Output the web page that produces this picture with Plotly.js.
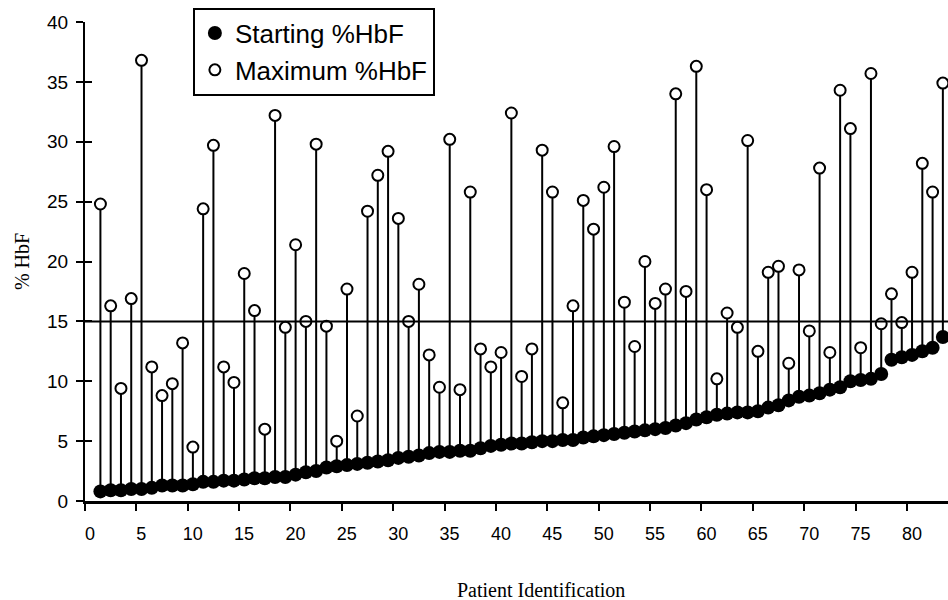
<!DOCTYPE html>
<html>
<head>
<meta charset="utf-8">
<script src="https://cdn.plot.ly/plotly-3.0.1.min.js"></script>
<style>html,body{margin:0;padding:0;background:#fff;}#chart{width:948px;height:600px;}</style>
</head>
<body>
<div id="chart"></div>
<script>
const patientIds = [1,2,3,4,5,6,7,8,9,10,11,12,13,14,15,16,17,18,19,20,21,22,23,24,25,26,27,28,29,30,31,32,33,34,35,36,37,38,39,40,41,42,43,44,45,46,47,48,49,50,51,52,53,54,55,56,57,58,59,60,61,62,63,64,65,66,67,68,69,70,71,72,73,74,75,76,77,78,79,80,81,82,83];

const startingHbF = [0.8,0.9,0.9,1.0,1.0,1.1,1.3,1.3,1.3,1.4,1.6,1.6,1.7,1.7,1.8,1.9,1.9,2.0,2.0,2.2,
  2.4,2.5,2.8,2.9,3.0,3.1,3.2,3.3,3.4,3.6,3.7,3.8,4.0,4.1,4.1,4.2,4.2,4.4,4.6,4.7,
  4.8,4.8,4.9,5.0,5.0,5.1,5.1,5.3,5.4,5.5,5.6,5.7,5.8,5.9,6.0,6.1,6.3,6.5,6.8,7.0,
  7.2,7.3,7.4,7.4,7.5,7.8,8.0,8.4,8.7,8.8,9.0,9.3,9.5,10.0,10.1,10.2,10.6,11.8,12.0,12.2,
  12.5,12.8,13.7];

const maximumHbF = [24.8,16.3,9.4,16.9,36.8,11.2,8.8,9.8,13.2,4.5,24.4,29.7,11.2,9.9,19.0,15.9,6.0,32.2,14.5,21.4,
  15.0,29.8,14.6,5.0,17.7,7.1,24.2,27.2,29.2,23.6,15.0,18.1,12.2,9.5,30.2,9.3,25.8,12.7,11.2,12.4,
  32.4,10.4,12.7,29.3,25.8,8.2,16.3,25.1,22.7,26.2,29.6,16.6,12.9,20.0,16.5,17.7,34.0,17.5,36.3,26.0,
  10.2,15.7,14.5,30.1,12.5,19.1,19.6,11.5,19.3,14.2,27.8,12.4,34.3,31.1,12.8,35.7,14.8,17.3,14.9,19.1,
  28.2,25.8,34.9];

const xTickLabels = ['0','5','10','15','20','25','30','35','40','45','50','55','60','65','70','75','80'];
const yTickValues = [0,5,10,15,20,25,30,35,40];
const thresholdHbF = 15;

const xTickPositions = xTickLabels.map(t => Number(t) - 0.5);
const rise = maximumHbF.map((m, i) => m - startingHbF[i]);
const zeros = maximumHbF.map(() => 0);

const traces = [
  {
    type: 'scatter', mode: 'markers', name: 'Starting %HbF',
    x: patientIds, y: startingHbF,
    marker: {symbol: 'circle', size: 14, color: '#000', line: {width: 0}},
    error_y: {type: 'data', symmetric: false, array: rise, arrayminus: zeros,
              width: 0, thickness: 2, color: '#000'}
  },
  {
    type: 'scatter', mode: 'markers', name: 'Maximum %HbF',
    x: patientIds, y: maximumHbF,
    marker: {symbol: 'circle', size: 11, color: '#fff', line: {width: 2, color: '#000'}}
  },
  {
    type: 'scatter', mode: 'markers', x: [null], y: [null], yaxis: 'y2',
    showlegend: false, hoverinfo: 'skip'
  }
];

const layout = {
  width: 948, height: 600,
  margin: {l: 85, r: 0, t: 22, b: 99},
  paper_bgcolor: '#fff', plot_bgcolor: '#fff',
  font: {family: 'Liberation Sans, Arial, sans-serif', color: '#000', size: 18},
  showlegend: true,
  legend: {
    x: 0.125, y: 1.03, xanchor: 'left', yanchor: 'top',
    bgcolor: '#fff', bordercolor: '#000', borderwidth: 2,
    font: {family: 'Liberation Sans, Arial, sans-serif', size: 26, color: '#000'},
    itemsizing: 'trace', tracegroupgap: 0
  },
  xaxis: {
    range: [-0.5, 83.5], showgrid: false, zeroline: false,
    showline: true, linecolor: '#000', linewidth: 2.5,
    tickmode: 'array', tickvals: xTickPositions, ticktext: xTickLabels,
    ticks: 'outside', ticklen: 7, tickwidth: 2, tickcolor: '#000',
    ticklabelshift: 5, ticklabelstandoff: 8,
    tickfont: {family: 'Liberation Sans, Arial, sans-serif', size: 18}
  },
  yaxis: {
    range: [0, 40], showgrid: false, zeroline: false,
    showline: true, linecolor: '#000', linewidth: 2,
    tickmode: 'array', tickvals: yTickValues,
    ticks: 'outside', ticklen: 7, tickwidth: 2, tickcolor: '#000',
    ticklabelstandoff: 4,
    tickfont: {family: 'Liberation Sans, Arial, sans-serif', size: 19},
    title: {text: '% HbF', standoff: 12,
            font: {family: 'Liberation Serif, Times New Roman, serif', size: 20}}
  },
  yaxis2: {
    overlaying: 'y', side: 'left', range: [0, 40], showgrid: false, zeroline: false,
    showline: false, tickmode: 'array', tickvals: yTickValues,
    ticks: 'inside', ticklen: 7, tickwidth: 2, tickcolor: '#000', showticklabels: false
  },
  shapes: [
    {type: 'line', xref: 'paper', x0: 0, x1: 1, yref: 'y', y0: thresholdHbF, y1: thresholdHbF,
     line: {color: '#000', width: 2}}
  ],
  annotations: [
    {text: 'Patient Identification', xref: 'paper', yref: 'paper', x: 0.528, y: -0.185,
     xanchor: 'center', yanchor: 'middle', showarrow: false,
     font: {family: 'Liberation Serif, Times New Roman, serif', size: 20, color: '#000'}}
  ]
};

Plotly.newPlot('chart', traces, layout, {staticPlot: true, displayModeBar: false});
</script>
</body>
</html>
